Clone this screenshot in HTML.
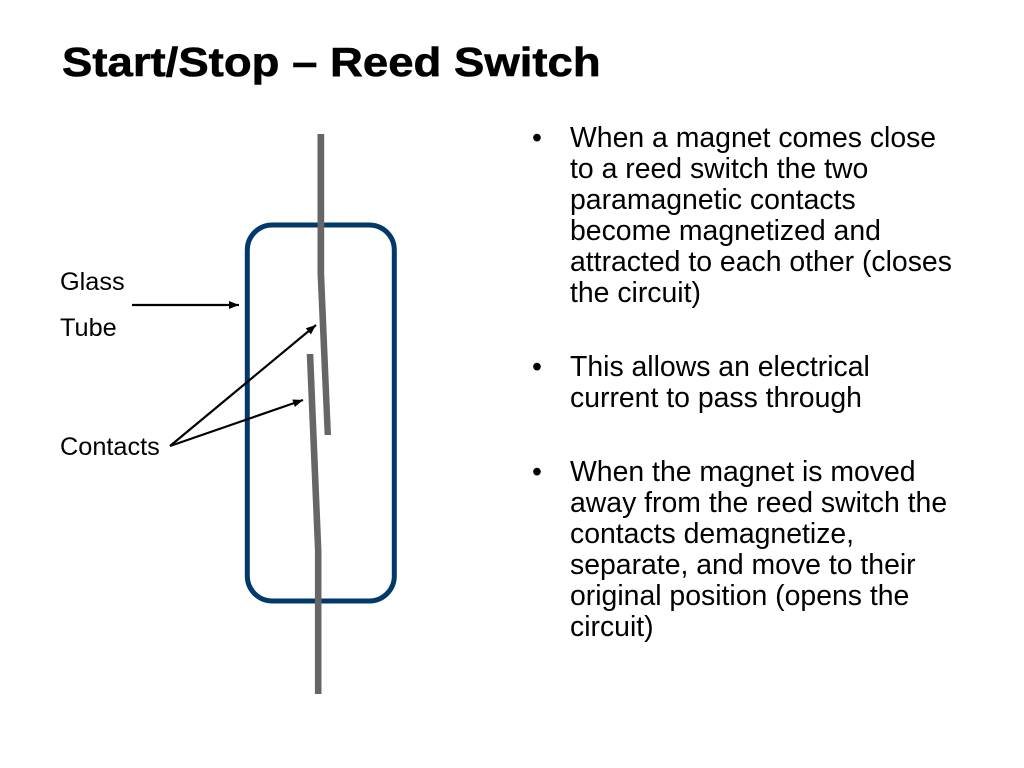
<!DOCTYPE html>
<html>
<head>
<meta charset="utf-8">
<style>
html,body{margin:0;padding:0;background:#fff;}
body{width:1024px;height:768px;overflow:hidden;position:relative;font-family:"Liberation Sans",sans-serif;color:#000;}
.t{position:absolute;white-space:nowrap;}
#title{left:62px;top:36px;font-size:41px;line-height:52px;font-weight:bold;transform-origin:0 0;transform:scaleX(1.11);-webkit-text-stroke:0.6px #000;}
.lab{font-size:25.3px;line-height:28px;}
.b{font-size:28.4px;line-height:31px;}
svg{position:absolute;left:0;top:0;}
</style>
</head>
<body>
<svg width="1024" height="768" viewBox="0 0 1024 768">
<defs>
<marker id="a" markerUnits="userSpaceOnUse" markerWidth="11" markerHeight="10" refX="10" refY="5" orient="auto"><path d="M0 1L10 5L0 9Z" fill="#000"/></marker>
</defs>
<rect x="247.3" y="225" width="147" height="376" rx="25" ry="25" fill="none" stroke="#03386b" stroke-width="5"/>
<g fill="#666">
<polygon points="317.5,134 324.2,134 324.2,274 331,435 324.6,435 317.5,274"/>
<polygon points="306.7,354 313.3,354 321.5,551 321.5,694 314.9,694 314.9,551"/>
</g>
<g stroke="#000" stroke-width="2.2" fill="none" marker-end="url(#a)">
<line x1="132" y1="305" x2="239" y2="305"/>
<line x1="170" y1="446" x2="316" y2="325"/>
<line x1="170" y1="446" x2="303" y2="400"/>
</g>
</svg>
<div class="t" id="title">Start/Stop – Reed Switch</div>
<div class="t lab" style="left:60px;top:268px;">Glass</div>
<div class="t lab" style="left:60px;top:314px;">Tube</div>
<div class="t lab" style="left:60px;top:433px;">Contacts</div>
<div class="t b" style="left:532px;top:123px;">•</div>
<div class="t b" style="left:570px;top:123px;">When a magnet comes close<br>to a reed switch the two<br>paramagnetic contacts<br>become magnetized and<br>attracted to each other (closes<br>the circuit)</div>
<div class="t b" style="left:532px;top:352px;">•</div>
<div class="t b" style="left:570px;top:352px;">This allows an electrical<br>current to pass through</div>
<div class="t b" style="left:532px;top:457px;">•</div>
<div class="t b" style="left:570px;top:457px;">When the magnet is moved<br>away from the reed switch the<br>contacts demagnetize,<br>separate, and move to their<br>original position (opens the<br>circuit)</div>
</body>
</html>
